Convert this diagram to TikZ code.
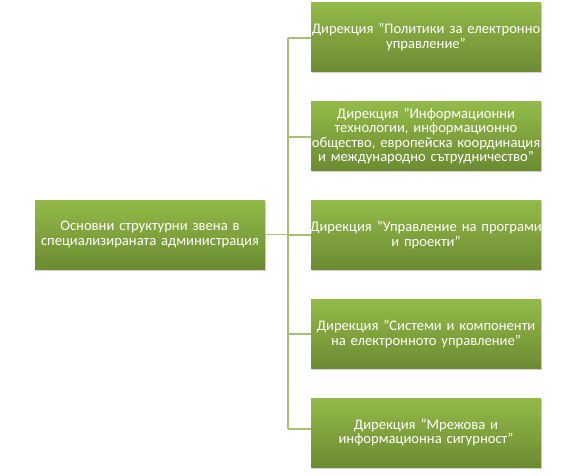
\documentclass[tikz,border=0pt]{standalone}
\usepackage{fontspec}
\setmainfont{Carlito}
\usetikzlibrary{shadows}
\definecolor{gtop}{HTML}{93BA48}
\definecolor{gbot}{HTML}{6C8B32}
\definecolor{lnk}{HTML}{A5C272}
\newcommand{\qq}{\symbol{34}}
\tikzset{
  unitbox/.style={rectangle, minimum width=230pt, minimum height=69pt,
    inner ysep=0pt, inner xsep=-10pt, text width=250pt, align=center, text=white,
    top color=gtop, bottom color=gbot,
    font=\fontsize{14.6pt}{14.3pt}\selectfont,
    drop shadow={shadow xshift=1pt, shadow yshift=-1.5pt, opacity=0.35}},
  link/.style={draw=lnk, line width=1.2pt}
}
\begin{document}
\begin{tikzpicture}[x=1pt,y=1pt]
\useasboundingbox (0,0) rectangle (575,475);
\node[unitbox] (L) at (150,240.5) {Основни структурни звена в\\специализираната администрация};
\node[unitbox] (r1) at (426,438) {Дирекция \qq Политики за електронно\\управление\qq};
\node[unitbox] (r2) at (426,339) {Дирекция \qq Информационни\\технологии, информационно\\общество, европейска координация\\и международно сътрудничество\qq};
\node[unitbox] (r3) at (426,240) {Дирекция \qq Управление на програми\\и проекти\qq};
\node[unitbox] (r4) at (426,141) {Дирекция \qq Системи и компоненти\\на електронното управление\qq};
\node[unitbox] (r5) at (426,42.5) {Дирекция \qq Мрежова и\\информационна сигурност\qq};
\coordinate (t1) at (288,437);
\coordinate (t2) at (288,338);
\coordinate (t3) at (288,240);
\coordinate (t4) at (288,141);
\coordinate (t5) at (288,46);
\draw[link] (t1) -- (t5);
\draw[link] (L.east) -- (L.east -| t1);
\draw[link] (t1) -- (t1 -| r1.west);
\draw[link] (t2) -- (t2 -| r2.west);
\draw[link] (t3) -- (t3 -| r3.west);
\draw[link] (t4) -- (t4 -| r4.west);
\draw[link] (t5) -- (t5 -| r5.west);
\end{tikzpicture}
\end{document}
